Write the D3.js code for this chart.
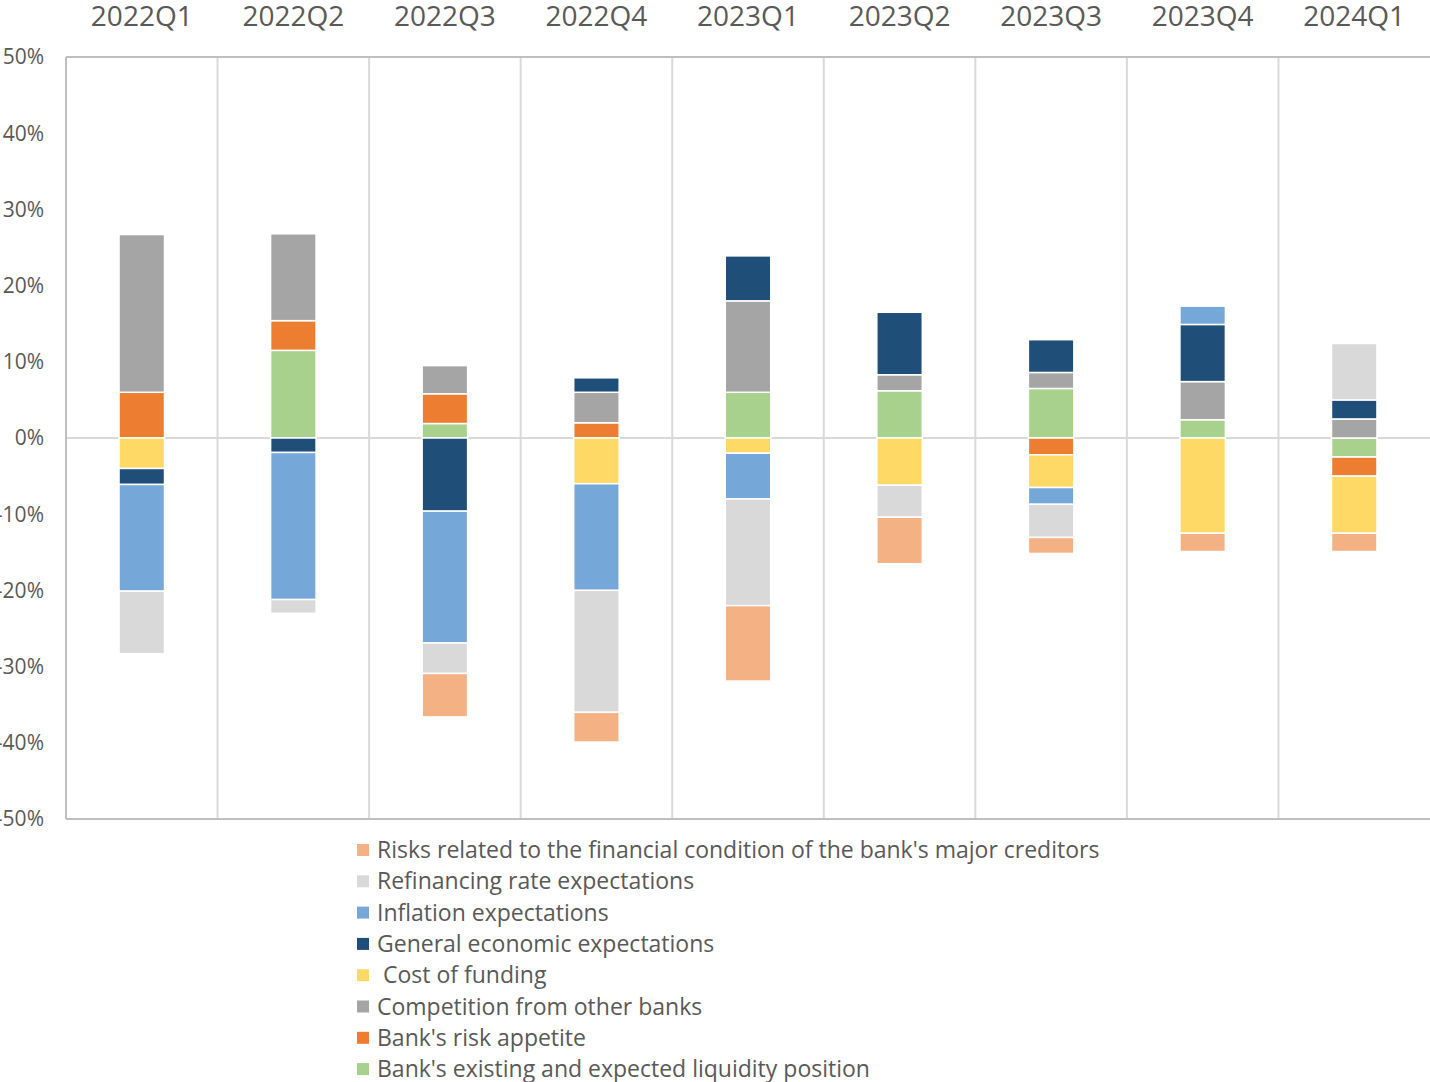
<!DOCTYPE html>
<html>
<head>
<meta charset="utf-8">
<script src="https://cdn.jsdelivr.net/npm/d3@7"></script>
<style>
body{margin:0;background:#fff;}
svg{display:block;font-family:"Open Sans",sans-serif;}
</style>
</head>
<body>
<svg id="chart" width="1430" height="1082"></svg>
<script>
let quarters=["2022Q1","2022Q2","2022Q3","2022Q4","2023Q1","2023Q2","2023Q3","2023Q4","2024Q1"];

// stacking order (bottom first), legend shows them reversed
let liquidity=[0,11.5,1.9,0,6.0,6.2,6.5,2.4,-2.5];
let riskAppetite=[6.0,3.9,3.9,2.0,0,0,-2.2,0,-2.5];
let competition=[20.7,11.4,3.7,4.0,12.0,2.1,2.1,5.0,2.5];
let costFunding=[-4.0,0,0,-6.0,-2.0,-6.2,-4.3,-12.5,-7.5];
let generalEcon=[-2.1,-1.9,-9.6,1.9,5.9,8.2,4.3,7.5,2.5];
let inflation=[-14.0,-19.3,-17.3,-14.0,-6.0,0,-2.2,2.4,0];
let refinancing=[-8.2,-1.8,-4.0,-16.0,-14.0,-4.2,-4.35,0,7.4];
let creditorRisk=[0,0,-5.7,-3.9,-9.9,-6.1,-2.1,-2.4,-2.4];

let yTicks=[50,40,30,20,10,0,-10,-20,-30,-40,-50];

let seriesNames=["Bank's existing and expected liquidity position","Bank's risk appetite","Competition from other banks"," Cost of funding","General economic expectations","Inflation expectations","Refinancing rate expectations","Risks related to the financial condition of the bank's major creditors"];
let seriesVals=[liquidity,riskAppetite,competition,costFunding,generalEcon,inflation,refinancing,creditorRisk];
let colors=["#A9D18E","#ED7D31","#A5A5A5","#FFD966","#1F4E79","#75A7D9","#D9D9D9","#F4B183"];

let svg=d3.select("#chart");
let pl=66,pr=1430,pt=57,pb=819;
let txt="#595959";

let rows=quarters.map((q,i)=>{
  let r={q:q};
  seriesNames.forEach((s,j)=>{r[s]=seriesVals[j][i];});
  return r;
});

let stack=d3.stack().keys(seriesNames).offset(d3.stackOffsetDiverging);
let layers=stack(rows);

let slot=d3.scaleBand().domain(quarters).range([pl,pr]).padding(0);
let x=d3.scaleBand().domain(quarters).range([pl,pr]).paddingInner(0.7).paddingOuter(0.35);
let y=d3.scaleLinear().domain([-50,50]).range([pb,pt]);

// vertical gridlines between categories
svg.append("g").selectAll("line").data(quarters.slice(1)).enter().append("line")
  .attr("x1",d=>slot(d)).attr("x2",d=>slot(d))
  .attr("y1",pt).attr("y2",pb)
  .attr("stroke","#D9D9D9").attr("stroke-width",2);

// zero line
svg.append("line").attr("x1",pl).attr("x2",pr).attr("y1",y(0)).attr("y2",y(0))
  .attr("stroke","#D9D9D9").attr("stroke-width",2);

// frame
svg.append("line").attr("x1",pl).attr("x2",pr).attr("y1",y(50)).attr("y2",y(50)).attr("stroke","#BFBFBF").attr("stroke-width",2);
svg.append("line").attr("x1",pl).attr("x2",pr).attr("y1",y(-50)).attr("y2",y(-50)).attr("stroke","#BFBFBF").attr("stroke-width",2);
svg.append("line").attr("x1",pl).attr("x2",pl).attr("y1",pt).attr("y2",pb).attr("stroke","#BFBFBF").attr("stroke-width",2);

// bars
svg.append("g").selectAll("g").data(layers).enter().append("g")
  .attr("fill",(d,i)=>colors[i])
  .selectAll("rect").data(d=>d.filter(p=>p[1]!==p[0])).enter().append("rect")
  .attr("x",d=>x(d.data.q))
  .attr("width",x.bandwidth())
  .attr("y",d=>y(Math.max(d[0],d[1])))
  .attr("height",d=>Math.abs(y(d[0])-y(d[1])))
  .attr("stroke","#fff").attr("stroke-width",1.5);

// y labels
svg.append("g").selectAll("text").data(yTicks).enter().append("text")
  .attr("x",44).attr("y",d=>y(d)).attr("dy","0.35em")
  .attr("text-anchor","end").attr("fill",txt).style("font-size","21px")
  .text(d=>d+"%");

// category labels on top
svg.append("g").selectAll("text").data(quarters).enter().append("text")
  .attr("x",d=>slot(d)+slot.bandwidth()/2).attr("y",26)
  .attr("text-anchor","middle").attr("fill",txt).style("font-size","28px")
  .text(d=>d);

// legend
let legOrder=d3.range(seriesNames.length).reverse();
let leg=svg.append("g");
legOrder.forEach((k,i)=>{
  let cy=850+i*31.3;
  leg.append("rect").attr("x",357).attr("y",cy-6).attr("width",12).attr("height",12).attr("fill",colors[k]);
  leg.append("text").attr("x",377).attr("y",cy).attr("dy","0.35em")
    .attr("fill",txt).style("font-size","23px").style("white-space","pre")
    .text(seriesNames[k]);
});
</script>
</body>
</html>
